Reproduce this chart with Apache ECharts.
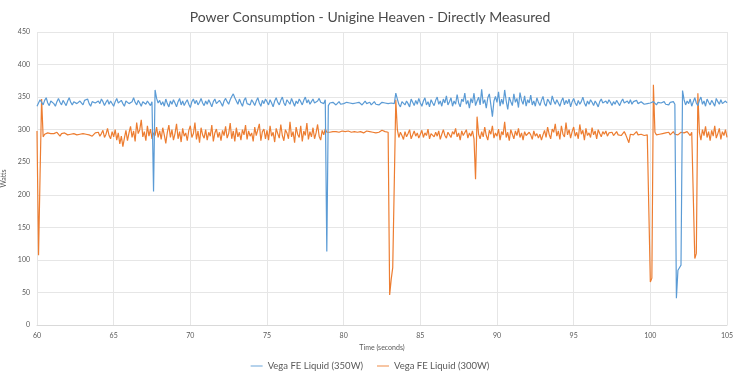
<!DOCTYPE html>
<html>
<head>
<meta charset="utf-8">
<script src="https://cdn.jsdelivr.net/npm/echarts@6/dist/echarts.min.js"></script>
<style>
  html, body { margin: 0; padding: 0; background: #fff; }
  #chart { width: 740px; height: 377px; }
</style>
</head>
<body>
<div id="chart"></div>
<script>
// samples every 0.1 s from 60.0 to 105.0
var startTime = 60;
var sampleStep = 0.1;

var seriesNames = ['Vega FE Liquid (350W)', 'Vega FE Liquid (300W)'];
var xTicks = [60, 65, 70, 75, 80, 85, 90, 95, 100, 105];

var blue350 = [
  336,341,346,343,338,345,349,341,337,344,
  347,340,336,343,348,342,338,345,341,337,
  344,349,342,338,343,346,340,337,344,341,
  338,345,342,347,340,336,343,346,341,339,
  344,340,347,343,337,342,346,339,344,341,
  336,343,348,341,338,345,340,336,344,347,
  340,337,343,349,342,338,345,341,336,343,
  346,339,344,341,337,343,205,361,348,341,
  345,338,343,336,347,340,335,344,339,346,
  341,335,343,348,338,344,337,342,346,339,
  334,343,347,340,345,338,342,348,341,337,
  344,339,346,341,335,343,347,340,338,345,
  341,336,344,348,343,339,346,351,355,349,
  344,339,347,341,336,345,349,340,343,338,
  346,342,337,344,349,341,336,345,340,347,
  343,338,346,341,335,344,349,342,338,345,
  350,341,337,346,343,339,348,342,336,344,
  340,347,343,338,345,350,341,346,339,343,
  347,341,338,344,348,342,345,340,346,113,
  337,341,339,342,340,338,341,343,339,341,
  340,338,342,339,341,343,340,337,341,339,
  342,340,338,341,344,340,339,342,338,341,
  343,339,341,338,340,342,339,341,344,340,
  338,341,343,340,356,347,339,335,343,346,
  338,344,340,335,347,342,337,345,339,348,
  341,336,344,349,338,343,335,346,341,337,
  345,350,339,344,336,347,341,352,338,343,
  349,336,344,339,354,341,335,347,343,356,
  339,345,333,348,341,356,337,344,350,338,
  362,340,346,333,349,355,338,320,344,351,
  342,358,336,347,339,361,344,331,350,343,
  337,355,342,348,334,357,345,339,352,336,
  346,341,353,338,344,336,349,342,337,345,
  351,340,336,347,343,338,352,344,339,346,
  341,336,344,349,338,345,340,347,335,343,
  348,341,337,345,339,343,350,341,336,344,
  339,346,342,337,344,340,335,343,347,341,
  338,344,340,346,342,337,343,339,345,341,
  337,343,347,341,338,344,340,346,339,343,
  341,345,340,338,343,341,339,342,340,338,
  341,339,343,340,338,342,339,341,340,343,
  339,341,338,342,340,343,339,41,84,88,
  92,360,346,338,344,340,347,336,343,349,
  341,337,345,350,339,344,336,347,342,338,
  345,341,336,348,343,339,346,340,337,344,
  341
];

var orange300 = [
  298,107,230,347,289,293,291,295,292,294,
  291,294,292,296,293,290,294,292,295,293,
  292,295,293,291,294,296,292,290,293,295,
  294,291,293,296,292,294,290,293,295,292,
  296,290,294,299,288,293,302,291,286,297,
  289,300,284,295,278,290,274,287,299,283,
  295,305,288,298,282,311,294,300,315,289,
  297,283,306,290,301,286,295,291,304,288,
  298,285,303,292,279,296,307,288,300,284,
  294,309,286,297,281,302,290,295,283,299,
  306,288,294,311,285,298,280,303,292,287,
  300,284,296,290,307,282,295,301,288,296,
  283,299,291,305,287,294,310,286,298,282,
  303,289,296,284,300,292,307,285,298,290,
  295,282,304,291,288,309,283,297,301,286,
  299,284,306,290,296,281,302,294,287,308,
  291,283,300,295,286,312,289,297,280,304,
  293,288,306,282,298,291,310,285,297,289,
  303,286,295,308,290,284,299,292,301,296,
  297,296,298,297,295,297,298,296,297,298,
  296,297,295,298,297,296,298,297,295,296,
  298,297,296,295,297,298,296,297,298,296,
  297,295,298,296,297,299,298,297,297,296,
  46,70,88,90,346,300,288,296,291,285,
  297,289,294,300,286,292,298,290,295,287,
  293,299,288,295,291,301,286,294,297,289,
  296,290,298,285,293,300,291,287,296,292,
  288,297,293,302,289,295,284,298,291,294,
  300,287,295,290,298,286,224,320,293,286,
  297,289,304,291,284,299,293,306,287,295,
  290,301,284,297,292,312,288,296,283,300,
  293,286,298,291,302,288,295,284,297,291,
  289,296,292,285,298,290,294,287,293,284,
  292,299,288,304,293,286,301,296,309,290,
  298,285,306,293,289,311,292,300,287,297,
  304,290,296,286,308,293,299,284,302,291,
  295,288,303,292,298,286,300,294,289,297,
  293,298,290,295,292,296,291,294,297,292,
  295,291,294,297,292,295,280,293,296,292,
  294,297,292,295,293,296,291,294,292,294,
  66,72,369,296,292,295,293,296,294,292,
  295,293,296,292,294,297,293,295,292,294,
  296,293,295,292,297,294,291,296,294,102,
  110,356,296,284,300,291,305,288,297,283,
  299,290,306,287,294,302,285,297,291,300,
  288
];

function pairUp(values) {
  var out = [];
  for (var i = 0; i < values.length; i++) {
    out.push([Math.round((startTime + i * sampleStep) * 10) / 10, values[i]]);
  }
  return out;
}

var chart = echarts.init(document.getElementById('chart'), null, { renderer: 'canvas' });
var font = 'Lato, "Open Sans", sans-serif';

var option = {
  animation: false,
  backgroundColor: '#fff',
  color: ['#5B9BD5', '#ED7D31'],
  title: {
    text: 'Power Consumption - Unigine Heaven - Directly Measured',
    left: 'center',
    top: 5,
    textStyle: { fontFamily: font, fontSize: 14, fontWeight: 'normal', color: '#4a4a4a' }
  },
  legend: {
    data: seriesNames,
    bottom: 1,
    left: 'center',
    icon: 'path://M0,0 L20,0 L20,1.5 L0,1.5 Z',
    itemWidth: 12,
    itemHeight: 2,
    itemGap: 14,
    textStyle: { fontFamily: font, fontSize: 9.5, color: '#595959' }
  },
  grid: { left: 37, right: 13, top: 32, bottom: 52, outerBoundsMode: 'none', containLabel: false },
  xAxis: {
    type: 'value',
    min: 60,
    max: 105,
    interval: 5,
    name: 'Time (seconds)',
    nameLocation: 'middle',
    nameGap: 18,
    nameTextStyle: { fontFamily: font, fontSize: 7, color: '#595959' },
    axisLine: { show: true, lineStyle: { color: '#d9d9d9' } },
    axisTick: { show: false },
    axisLabel: {
      fontFamily: font, fontSize: 7, color: '#595959', margin: 7,
      formatter: function (v) { return xTicks.indexOf(v) >= 0 ? String(v) : ''; }
    },
    splitLine: { show: true, lineStyle: { color: '#e6e6e6' } }
  },
  yAxis: {
    type: 'value',
    min: 0,
    max: 450,
    interval: 50,
    name: 'Watts',
    nameLocation: 'middle',
    nameGap: 2,
    nameTextStyle: { fontFamily: font, fontSize: 7, color: '#595959' },
    axisLine: { show: false },
    axisTick: { show: false },
    axisLabel: { fontFamily: font, fontSize: 7, color: '#595959', margin: 7 },
    splitLine: { show: true, lineStyle: { color: '#e6e6e6' } }
  },
  series: [
    {
      name: seriesNames[0],
      type: 'line',
      data: pairUp(blue350),
      showSymbol: false,
      lineStyle: { width: 1.2 },
      z: 3
    },
    {
      name: seriesNames[1],
      type: 'line',
      data: pairUp(orange300),
      showSymbol: false,
      lineStyle: { width: 1.2 },
      z: 2
    }
  ]
};
chart.setOption(option);
</script>
</body>
</html>
